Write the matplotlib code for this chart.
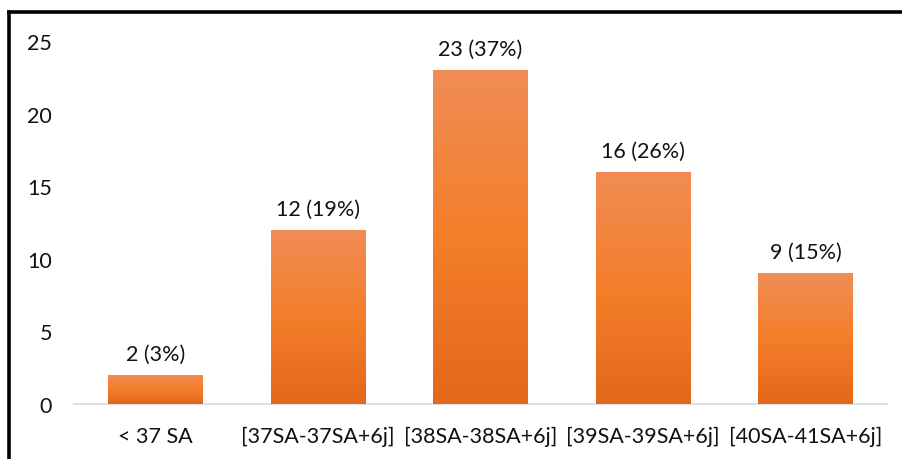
import numpy as np
import matplotlib.pyplot as plt
from matplotlib.colors import LinearSegmentedColormap
from matplotlib.lines import Line2D

categories = ["< 37 SA", "[37SA-37SA+6j]", "[38SA-38SA+6j]", "[39SA-39SA+6j]", "[40SA-41SA+6j]"]
counts = [2, 12, 23, 16, 9]
percents = [3, 19, 37, 26, 15]

plt.rcParams['font.family'] = ['Lato', 'DejaVu Sans']

fig = plt.figure(figsize=(9.03, 4.60), dpi=100)
ax = fig.add_axes([0.082, 0.1196, 0.900, 0.7891])

x = np.arange(len(categories))
bars = ax.bar(x, counts, width=0.58, color="#F47F2A", zorder=2)

# vertical gradient inside each bar (lighter top, darker bottom)
cmap = LinearSegmentedColormap.from_list("og", ["#E3681A", "#F47E2A", "#F08D55"])
grad = np.linspace(0, 1, 256).reshape(-1, 1)
for b in bars:
    x0, w, h = b.get_x(), b.get_width(), b.get_height()
    im = ax.imshow(grad, cmap=cmap, aspect="auto", origin="lower",
                   extent=[x0, x0 + w, 0, h], zorder=3)
    im.set_clip_path(b)

for xi, c, p in zip(x, counts, percents):
    ax.annotate(f"{c} ({p}%)", (xi, c), xytext=(0, 8), textcoords="offset points",
                ha="center", va="bottom", fontsize=15.5, color="#111111")

ax.set_xlim(-0.5, len(categories) - 0.5)
ax.set_ylim(0, 25)
ax.set_yticks([0, 5, 10, 15, 20, 25])
ax.set_xticks(x)
ax.set_xticklabels(categories)
ax.tick_params(axis="both", length=0, labelsize=15.5, colors="#111111")
ax.tick_params(axis="y", pad=16)
ax.tick_params(axis="x", pad=16)
for s in ["top", "right", "left"]:
    ax.spines[s].set_visible(False)
ax.spines["bottom"].set_color("#D9DEE6")
ax.spines["bottom"].set_linewidth(1.3)
ax.spines["bottom"].set_zorder(1)

# black frame on left and top of the picture
fig.add_artist(Line2D([0.0105, 0.0105], [0, 0.9707], color="black", lw=2.6,
                      solid_capstyle="projecting", transform=fig.transFigure))
fig.add_artist(Line2D([0.0105, 1.0], [0.9707, 0.9707], color="black", lw=2.6,
                      solid_capstyle="projecting", transform=fig.transFigure))

fig.savefig("out.png", dpi=100)
